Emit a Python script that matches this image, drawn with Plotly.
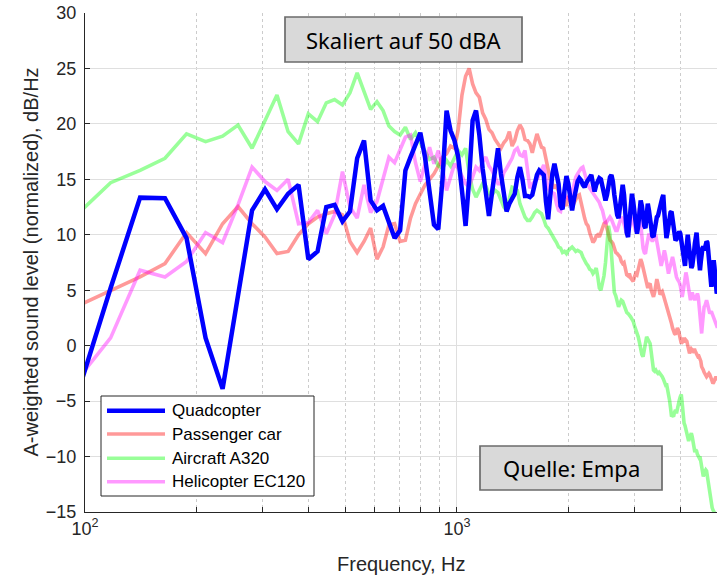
import math
import plotly.graph_objects as go

# ---------------- data ----------------
BIN_HZ = 23.4375          # spectral bin width of the FFT spectra (Hz)
FIRST_BIN = 4             # first bin index shown (93.75 Hz, just left of 100 Hz)

quadcopter_db = [
    -5.2, 5.2, 13.35, 13.3, 9.7, 0.7, -3.9, 4.8, 12.2, 14.1,
    12.3, 13.7, 14.5, 7.8, 8.5, 12.5, 12.7, 11.2, 12.1, 16.9,
    18.5, 13.1, 12.2, 12.6, 11.0, 9.7, 10.4, 15.8, 17.0, 18.2,
    19.2, 17.0, 14.0, 10.9, 10.5, 15.0, 21.2, 19.4, 18.5, 17.0,
    14.0, 10.8, 15.0, 20.3, 21.2, 19.0, 16.0, 13.5, 11.7, 13.8,
    16.2, 17.8, 15.5, 13.5, 12.1, 12.8, 13.2, 13.7, 15.2, 16.1,
    15.0, 13.5, 13.5, 13.4, 13.6, 14.5, 15.4, 15.8, 15.6, 15.4,
    13.0, 11.4, 13.5, 15.5, 16.4, 15.5, 14.6, 12.6, 12.3, 14.0,
    15.3, 14.6, 13.4, 12.2, 13.2, 14.3, 14.8, 15.1, 14.9, 14.5,
    14.3, 14.7, 15.0, 15.2, 15.4, 14.6, 13.9, 14.5, 14.8, 15.1,
    15.0, 14.2, 13.5, 13.1, 13.6, 14.5, 15.2, 15.4, 14.8, 13.6,
    12.4, 11.8, 11.5, 12.6, 13.8, 14.5, 13.6, 11.8, 10.2, 9.8,
    11.2, 12.8, 13.7, 13.0, 12.0, 11.0, 10.1, 10.8, 12.0, 13.1,
    12.6, 11.5, 10.8, 10.6, 11.8, 12.8, 12.2, 11.2, 10.4, 9.9,
    9.8, 10.5, 11.2, 11.6, 11.7, 12.0, 12.5, 12.9, 13.3, 13.6,
    12.0, 10.5, 9.7, 10.2, 10.9, 11.5, 12.0, 12.1, 11.2, 10.4,
    9.8, 9.5, 9.6, 9.9, 10.2, 10.3, 10.1, 9.6, 9.0, 8.4,
    7.8, 7.2, 8.2, 9.4, 10.0, 9.2, 8.2, 7.4, 7.0, 7.2,
    7.6, 8.4, 9.2, 9.9, 10.2, 9.2, 8.0, 7.2, 6.8, 7.6,
    8.4, 8.8, 8.9, 8.6, 8.8, 9.1, 9.4, 9.3, 8.6, 7.6,
    6.8, 6.0, 5.3, 6.0, 7.2, 7.7, 7.1, 6.2, 5.3, 4.7,
    5.0,
]

passenger_car_db = [
    3.45, 5.0, 6.2, 7.4, 10.2, 8.3, 11.0, 12.55, 11.0, 9.8,
    8.3, 8.5, 10.0, 11.0, 11.6, 11.9, 12.1, 11.8, 9.4, 8.4,
    9.4, 10.6, 7.8, 8.9, 10.9, 11.0, 9.4, 9.5, 11.5, 12.8,
    13.7, 14.5, 15.0, 15.5, 16.2, 17.0, 17.3, 18.0, 17.8, 19.5,
    22.6, 24.3, 25.0, 23.6, 22.8, 22.4, 21.0, 20.4, 19.5, 19.2,
    18.6, 18.2, 17.8, 18.3, 18.6, 19.3, 18.0, 18.5, 19.4, 19.9,
    19.5, 18.6, 18.5, 18.2, 17.4, 18.3, 19.1, 18.5, 17.9, 17.8,
    16.8, 16.0, 15.0, 14.6, 14.2, 14.5, 13.9, 13.6, 13.2, 12.8,
    12.6, 13.5, 13.2, 12.5, 12.9, 13.3, 13.5, 13.6, 12.8, 12.0,
    11.5, 11.0, 10.8, 10.2, 9.6, 9.3, 9.5, 9.9, 10.0, 9.8,
    10.2, 10.6, 11.0, 11.1, 10.6, 10.0, 9.5, 9.4, 9.2, 8.8,
    8.4, 8.3, 8.2, 8.0, 7.6, 7.4, 7.5, 7.0, 6.4, 6.3,
    6.5, 6.1, 5.9, 5.8, 6.2, 6.5, 6.4, 6.8, 7.4, 7.8,
    7.5, 7.0, 6.4, 5.8, 5.4, 5.2, 5.5, 5.6, 5.0, 4.6,
    4.4, 4.8, 5.6, 6.0, 5.6, 5.0, 4.6, 4.8, 4.9, 4.6,
    4.3, 4.0, 3.6, 3.3, 2.9, 2.6, 2.4, 2.0, 1.6, 1.3,
    1.1, 1.0, 1.3, 1.6, 1.4, 0.9, 0.5, 0.2, 0.3, 0.6,
    0.6, 0.3, 0.5, 0.4, 0.0, -0.4, -0.7, -0.5, -0.3, -0.4,
    -0.5, -0.4, -0.4, -0.6, -0.8, -0.9, -0.8, -1.0, -1.0, -1.4,
    -1.9, -2.2, -2.2, -2.4, -2.6, -2.8, -2.8, -2.7, -2.5, -2.5,
    -2.6, -2.8, -3.0, -3.2, -3.4, -3.3, -3.1, -2.9, -2.8, -3.0,
    -3.1,
]

aircraft_a320_db = [
    11.6, 14.7, 15.8, 16.9, 19.1, 18.4, 18.9, 19.9, 17.8, 20.2,
    22.6, 19.3, 18.2, 20.9, 20.2, 21.9, 22.2, 21.7, 22.8, 24.6,
    23.0, 21.3, 22.0, 21.2, 19.8, 19.3, 19.0, 19.7, 18.6, 19.2,
    18.3, 17.5, 16.8, 17.0, 16.2, 16.0, 16.7, 16.2, 17.0, 17.6,
    17.2, 17.8, 15.5, 14.1, 13.4, 14.0, 14.6, 14.4, 13.7, 13.6,
    14.0, 13.8, 13.1, 12.5, 12.2, 13.3, 14.3, 14.2, 14.0, 12.8,
    12.2, 11.6, 11.3, 11.3, 11.6, 12.0, 12.2, 12.0, 11.9, 11.4,
    10.8, 10.6, 10.2, 9.9, 9.6, 9.3, 8.9, 8.8, 8.4, 8.5,
    8.3, 8.6, 8.8, 8.9, 8.7, 8.5, 8.6, 8.5, 8.4, 8.0,
    7.6, 7.4, 7.2, 6.9, 6.8, 6.5, 6.7, 7.0, 6.2, 5.2,
    5.0, 5.6, 6.3, 7.5, 9.6, 10.8, 10.0, 8.2, 6.2, 4.8,
    4.5, 4.0, 3.5, 3.8, 4.1, 4.0, 3.6, 3.2, 3.0, 2.9,
    2.8, 2.6, 2.4, 2.2, 1.8, 1.5, 1.2, 0.8, 0.3, -0.3,
    -0.8, -1.0, -0.2, 0.5, 0.8, 0.6, 0.4, 0.2, -0.6, -1.5,
    -2.2, -2.3, -2.2, -2.4, -2.5, -2.4, -2.5, -2.6, -2.8, -3.0,
    -3.2, -3.5, -3.4, -3.8, -4.4, -4.9, -5.6, -6.4, -6.3, -6.4,
    -6.0, -5.8, -6.1, -5.6, -5.3, -4.9, -4.6, -4.4, -5.2, -6.2,
    -7.0, -7.2, -7.6, -7.9, -8.4, -8.6, -8.3, -8.0, -7.9, -8.2,
    -8.6, -9.2, -9.6, -9.4, -9.5, -9.8, -10.0, -10.1, -10.0, -10.6,
    -11.2, -11.6, -11.8, -11.5, -11.3, -11.2, -11.3, -11.8, -12.4, -13.0,
    -13.4, -13.8, -14.3, -14.6, -14.8, -15.0, -15.1, -15.2, -15.3, -15.3,
    -15.4,
]

helicopter_ec120_db = [
    -3.4, 0.7, 6.8, 6.2, 7.6, 10.2, 9.3, 12.7, 16.1, 14.8,
    14.0, 15.0, 11.0, 11.1, 12.2, 10.1, 11.8, 15.7, 12.5, 11.5,
    14.5, 12.0, 13.0, 15.2, 17.0, 16.5, 17.6, 18.8, 19.0, 16.5,
    14.8, 16.5, 17.9, 16.4, 17.6, 16.0, 14.0, 15.2, 16.4, 16.0,
    15.2, 14.6, 14.3, 15.2, 16.1, 15.8, 16.6, 17.0, 16.2, 15.8,
    15.2, 14.6, 14.6, 15.6, 16.0, 16.5, 16.9, 17.6, 17.8, 17.2,
    17.1, 17.6, 15.8, 14.2, 14.6, 14.8, 15.0, 15.4, 15.8, 16.3,
    15.2, 14.2, 13.9, 13.8, 13.7, 12.8, 12.2, 12.1, 13.0, 13.7,
    13.4, 13.2, 13.1, 13.8, 14.6, 15.2, 15.5, 15.8, 16.0, 16.1,
    15.5, 14.9, 14.5, 14.2, 14.0, 13.8, 13.6, 13.4, 13.2, 12.9,
    12.5, 12.2, 11.6, 11.0, 11.2, 11.5, 11.6, 11.4, 11.0, 10.6,
    10.4, 10.4, 10.8, 11.2, 11.6, 11.4, 10.9, 10.4, 10.1, 10.1,
    10.6, 11.2, 11.6, 11.2, 10.6, 10.3, 10.8, 11.8, 12.4, 11.0,
    9.6, 8.8, 8.4, 8.3, 9.0, 9.8, 10.1, 9.8, 9.5, 9.4,
    9.6, 9.8, 10.0, 9.4, 8.8, 8.2, 7.6, 7.2, 7.6, 8.4,
    8.6, 8.2, 7.4, 6.8, 6.5, 6.9, 7.3, 7.8, 8.0, 7.6,
    7.0, 6.5, 6.2, 6.0, 5.9, 5.7, 5.4, 4.8, 4.4, 4.9,
    5.6, 6.3, 6.6, 6.2, 5.5, 4.8, 4.2, 4.1, 4.5, 4.8,
    4.5, 4.2, 4.1, 4.3, 4.6, 4.7, 4.4, 3.4, 2.6, 1.6,
    1.1, 2.0, 3.0, 3.5, 3.6, 3.9, 4.1, 3.8, 3.4, 3.0,
    2.9, 3.0, 3.1, 2.9, 2.7, 2.6, 2.4, 2.3, 2.0, 1.7,
    1.6,
]

series_names = ["Quadcopter", "Passenger car", "Aircraft A320", "Helicopter EC120"]
x_tick_vals = [100, 1000]
x_tick_text = ["10<sup>2</sup>", "10<sup>3</sup>"]
x_minor_vals = [200, 300, 400, 500, 600, 700, 800, 900, 2000, 3000, 4000, 5000]
x_range_hz = [100, 5000]
y_range_db = [-15, 30]
y_step_db = 5


def bins(values):
    return [BIN_HZ * k for k in range(FIRST_BIN, FIRST_BIN + len(values))]


# ---------------- styles ----------------
colors = {
    "Quadcopter": "#0000ff",
    "Passenger car": "rgba(255,0,0,0.4)",
    "Aircraft A320": "rgba(0,255,0,0.4)",
    "Helicopter EC120": "rgba(255,0,255,0.4)",
}
widths = {"Quadcopter": 4.5, "Passenger car": 3.6, "Aircraft A320": 3.6, "Helicopter EC120": 3.6}
values = {
    "Quadcopter": quadcopter_db,
    "Passenger car": passenger_car_db,
    "Aircraft A320": aircraft_a320_db,
    "Helicopter EC120": helicopter_ec120_db,
}

AX_FONT = "Liberation Sans, Arial, sans-serif"
BOX_FONT = "Noto Sans, Open Sans, sans-serif"
DARK = "#262626"

fig = go.Figure()
# draw order: background series first, quadcopter on top
for name in ["Passenger car", "Aircraft A320", "Helicopter EC120", "Quadcopter"]:
    v = values[name]
    fig.add_trace(go.Scatter(
        x=bins(v), y=v, mode="lines", name=name,
        line=dict(color=colors[name], width=widths[name]),
        showlegend=False,
    ))

fig.update_xaxes(
    type="log", range=[math.log10(x_range_hz[0]), math.log10(x_range_hz[1])],
    automargin=False,
    tickmode="array", tickvals=x_tick_vals, ticktext=x_tick_text,
    ticks="inside", ticklen=5, tickcolor=DARK, tickwidth=1,
    showline=True, linecolor=DARK, linewidth=1, mirror=False,
    showgrid=True, gridcolor="#dfdfdf", gridwidth=1, zeroline=False,
    tickfont=dict(family=AX_FONT, size=18, color=DARK),
    minor=dict(tickmode="array", tickvals=x_minor_vals, ticks="inside", ticklen=5,
               tickcolor=DARK, tickwidth=1, showgrid=True, gridcolor="#cccccc",
               griddash="dot", gridwidth=1),
)
fig.update_yaxes(
    range=y_range_db, dtick=y_step_db, tick0=0, automargin=False,
    ticks="inside", ticklen=5, tickcolor=DARK, tickwidth=1,
    showline=True, linecolor=DARK, linewidth=1, mirror=False,
    showgrid=True, gridcolor="#dfdfdf", gridwidth=1, zeroline=False,
    ticklabelstandoff=4,
    tickfont=dict(family=AX_FONT, size=18, color=DARK),
)

PW, PH = 632.0, 499.0   # plot area size in px
L, T = 85, 13


def px(xp):
    return (xp - L) / PW


def py(yp):
    return (T + PH - yp) / PH


shapes = []
annotations = []

# axis titles
annotations.append(dict(text="A-weighted sound level (normalized), dB/Hz", xref="paper", yref="paper",
                        x=px(30), y=0.5, xanchor="center", yanchor="middle", textangle=-90,
                        showarrow=False, font=dict(family=AX_FONT, size=20, color=DARK)))
annotations.append(dict(text="Frequency, Hz", xref="paper", yref="paper",
                        x=0.5, y=py(564), xanchor="center", yanchor="middle",
                        showarrow=False, font=dict(family=AX_FONT, size=20, color=DARK)))

# text boxes
for text, (x0, y0, x1, y1) in [("Skaliert auf 50 dBA", (285, 17, 522, 62)),
                               ("Quelle: Empa", (480, 446, 662, 490))]:
    shapes.append(dict(type="rect", xref="paper", yref="paper",
                       x0=px(x0), x1=px(x1), y0=py(y1), y1=py(y0),
                       fillcolor="#d9d9d9", line=dict(color="#6b6b6b", width=1.7), layer="above"))
    annotations.append(dict(text=text, xref="paper", yref="paper",
                            x=px((x0 + x1) / 2), y=py((y0 + y1) / 2),
                            xanchor="center", yanchor="middle", showarrow=False,
                            font=dict(family=BOX_FONT, size=22, color="#000000")))

# legend (drawn manually to match the long line samples)
shapes.append(dict(type="rect", xref="paper", yref="paper",
                   x0=px(101), x1=px(314), y0=py(496), y1=py(396),
                   fillcolor="#ffffff", line=dict(color=DARK, width=1), layer="above"))
row_y = [410.7, 434.0, 458.3, 481.7]
for name, yy in zip(series_names, row_y):
    shapes.append(dict(type="line", xref="paper", yref="paper",
                       x0=px(107), x1=px(165), y0=py(yy), y1=py(yy),
                       line=dict(color=colors[name], width=widths[name]), layer="above"))
    annotations.append(dict(text=name, xref="paper", yref="paper",
                            x=px(170), y=py(yy), xanchor="left", yanchor="middle",
                            showarrow=False, font=dict(family=AX_FONT, size=17, color="#000000")))

fig.update_layout(
    width=719, height=575,
    margin=dict(l=L, r=719 - L - int(PW), t=T, b=575 - T - int(PH), autoexpand=False),
    paper_bgcolor="white", plot_bgcolor="white",
    showlegend=False, shapes=shapes, annotations=annotations,
)

fig.write_html(
    "out.html",
    config={"displayModeBar": False},
    post_script="document.body.style.margin='0px';document.body.style.overflow='hidden';",
)
